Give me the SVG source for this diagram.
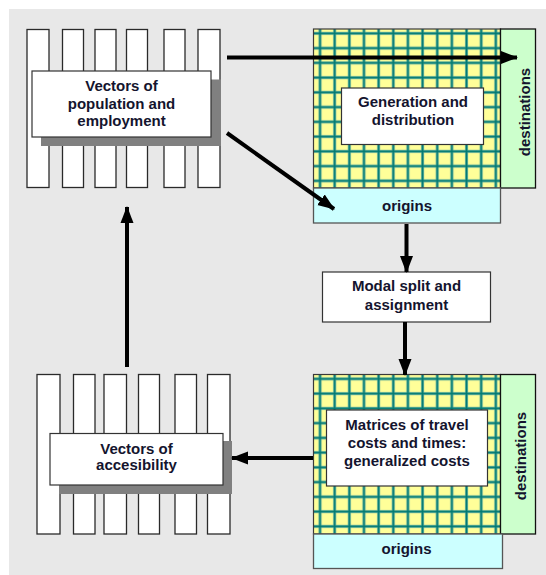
<svg xmlns="http://www.w3.org/2000/svg" width="546" height="575" viewBox="0 0 546 575">
<style>
  .bar { fill: #ffffff; stroke: #2a2a2a; stroke-width: 1.3; }
  .box { fill: #ffffff; stroke: #333333; stroke-width: 1.2; }
  .shadow { fill: #808080; }
  .yel { stroke: #3a3a3a; stroke-width: 1.2; }
  .dest { fill: #ccffcc; stroke: #111111; stroke-width: 1.3; }
  .orig { fill: #ccffff; stroke: #555555; stroke-width: 1.3; }
  .t { font-family: "Liberation Sans", Arial, sans-serif; font-weight: bold; font-size: 15px; fill: #14142e; text-anchor: middle; }
  .arrow { stroke: #000000; stroke-width: 4; fill: none; marker-end: url(#ah); }
</style>
<defs>
  <marker id="ah" markerUnits="userSpaceOnUse" markerWidth="18" markerHeight="14" refX="16" refY="7" orient="auto">
    <path d="M0,0.5 L17,7 L0,13.5 Z" fill="#000000"/>
  </marker>
  <pattern id="gridTop" patternUnits="userSpaceOnUse" x="312.7" y="26" width="14.65" height="14.75">
    <rect width="14.65" height="14.75" fill="#ffff99"/>
    <line x1="7.33" y1="0" x2="7.33" y2="14.75" stroke="#86c2a8" stroke-width="3.2"/>
    <line x1="0" y1="7.37" x2="14.65" y2="7.37" stroke="#86c2a8" stroke-width="3.2"/>
    <line x1="7.33" y1="0" x2="7.33" y2="14.75" stroke="#007a72" stroke-width="1.8"/>
    <line x1="0" y1="7.37" x2="14.65" y2="7.37" stroke="#007a72" stroke-width="1.8"/>
  </pattern>
  <pattern id="gridBot" patternUnits="userSpaceOnUse" x="312.7" y="371.5" width="14.65" height="14.75">
    <rect width="14.65" height="14.75" fill="#ffff99"/>
    <line x1="7.33" y1="0" x2="7.33" y2="14.75" stroke="#86c2a8" stroke-width="3.2"/>
    <line x1="0" y1="7.37" x2="14.65" y2="7.37" stroke="#86c2a8" stroke-width="3.2"/>
    <line x1="7.33" y1="0" x2="7.33" y2="14.75" stroke="#007a72" stroke-width="1.8"/>
    <line x1="0" y1="7.37" x2="14.65" y2="7.37" stroke="#007a72" stroke-width="1.8"/>
  </pattern>
</defs>

<rect x="0" y="0" width="546" height="575" fill="#ffffff"/>
<rect x="9" y="9" width="537" height="566" fill="#e8e8e8"/>

<g id="vectors-population">
  <rect class="bar" x="27" y="29.5" width="22" height="158"/>
  <rect class="bar" x="62.5" y="29.5" width="21" height="158"/>
  <rect class="bar" x="95" y="29.5" width="21" height="158"/>
  <rect class="bar" x="126.5" y="29.5" width="21" height="158"/>
  <rect class="bar" x="164" y="29.5" width="21" height="158"/>
  <rect class="bar" x="198" y="29.5" width="22" height="158"/>
  <rect class="shadow" x="41" y="79.5" width="180" height="66.5"/>
  <rect class="box" x="32" y="71" width="179" height="66"/>
  <text class="t" x="121.5" y="91">Vectors of</text>
  <text class="t" x="121.5" y="109">population and</text>
  <text class="t" x="121.5" y="126">employment</text>
</g>

<g id="generation-matrix">
  <rect class="yel" x="313.5" y="29" width="187" height="159" fill="url(#gridTop)"/>
  <rect class="dest" x="500.5" y="29" width="35" height="159"/>
  <rect class="orig" x="313.5" y="188" width="187" height="35"/>
  <rect class="box" x="341.5" y="88" width="142" height="56.5"/>
  <text class="t" x="413" y="107">Generation and</text>
  <text class="t" x="413" y="124.5">distribution</text>
  <text class="t" transform="translate(529.5,112) rotate(-90)" x="0" y="0">destinations</text>
  <text class="t" x="407" y="210.5">origins</text>
</g>

<g id="modal-split">
  <rect class="box" x="322.5" y="272" width="168" height="50"/>
  <text class="t" x="406.5" y="291">Modal split and</text>
  <text class="t" x="406.5" y="309.5">assignment</text>
</g>

<g id="cost-matrix">
  <rect class="yel" x="313.5" y="374.5" width="187" height="159.5" fill="url(#gridBot)"/>
  <rect class="dest" x="500.5" y="374.5" width="35" height="159.5"/>
  <rect class="orig" x="313.5" y="534" width="189" height="34.5"/>
  <rect class="box" x="326.5" y="410" width="161" height="76"/>
  <text class="t" x="407" y="429.5">Matrices of travel</text>
  <text class="t" x="407" y="448">costs and times:</text>
  <text class="t" x="407" y="466">generalized costs</text>
  <text class="t" transform="translate(526,456) rotate(-90)" x="0" y="0">destinations</text>
  <text class="t" x="406.5" y="553.5">origins</text>
</g>

<g id="vectors-accessibility">
  <rect class="bar" x="37" y="374.5" width="23" height="159.5"/>
  <rect class="bar" x="73.5" y="374.5" width="21.5" height="159.5"/>
  <rect class="bar" x="104" y="374.5" width="22.5" height="159.5"/>
  <rect class="bar" x="138.5" y="374.5" width="21" height="159.5"/>
  <rect class="bar" x="175" y="374.5" width="21.5" height="159.5"/>
  <rect class="bar" x="207.5" y="374.5" width="22.5" height="159.5"/>
  <rect class="shadow" x="59" y="441" width="173" height="53"/>
  <rect class="box" x="50" y="433.5" width="173" height="51.5"/>
  <text class="t" x="136.5" y="453.5">Vectors of</text>
  <text class="t" x="136.5" y="469.5">accesibility</text>
</g>

<g id="connectors">
  <line class="arrow" x1="227" y1="57.5" x2="517" y2="57.5"/>
  <line class="arrow" x1="227" y1="133" x2="334" y2="209"/>
  <line class="arrow" x1="406.5" y1="224" x2="406.5" y2="272"/>
  <line class="arrow" x1="405" y1="322" x2="405" y2="375"/>
  <line class="arrow" x1="313" y1="458" x2="232" y2="458"/>
  <line class="arrow" x1="127" y1="367" x2="127" y2="207"/>
</g>
</svg>
